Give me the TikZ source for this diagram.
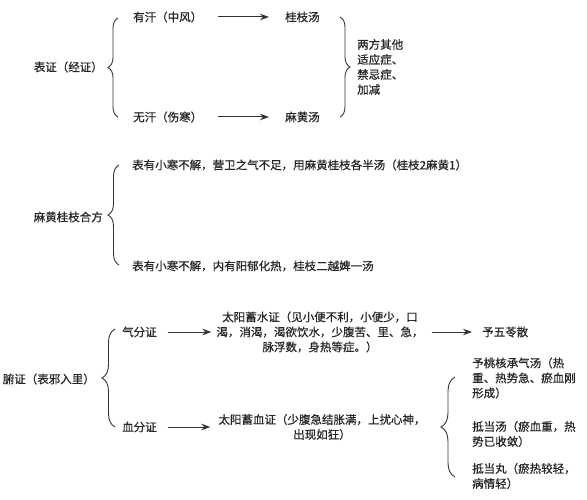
\documentclass[tikz,border=0pt]{standalone}
\usepackage{fontspec}
\setmainfont{Noto Sans CJK SC}[BoldFont=Noto Sans CJK SC, BoldFeatures={FakeBold=0.6}]
\usetikzlibrary{decorations.pathreplacing,arrows.meta}
\definecolor{ink}{HTML}{262626}
\definecolor{lineink}{HTML}{333333}
\begin{document}
\begin{tikzpicture}[x=1pt,y=-1pt,
  txt/.style={inner sep=0pt, font=\fontsize{11.5}{15}\selectfont\bfseries, text=ink, align=left},
  ctxt/.style={txt, align=center},
  arr/.style={draw=lineink, line width=1pt, -{Stealth[length=9pt,width=6.5pt]}},
  brc/.style={draw=lineink, line width=0.9pt, decorate, decoration={brace, amplitude=#1}},
]
\useasboundingbox[fill=white] (0,0) rectangle (587,500);

% ---------- section 1 ----------
\node[txt, anchor=east] (bz) at (103,67) {表证（经证）};
\node[txt, anchor=west] (yh) at (133,17) {有汗（中风）};
\node[txt, anchor=west] (wh) at (133,117) {无汗（伤寒）};
\node[txt, anchor=west] (gz) at (285,17) {桂枝汤};
\node[txt, anchor=west] (mh) at (285,117) {麻黄汤};
\node[txt, anchor=west] (qt) at (357,67) {两方其他\\适应症、\\禁忌症、\\加减};
\draw[arr, shorten <=16pt, shorten >=16pt] (yh.east) -- (gz.west);
\draw[arr, shorten <=16pt, shorten >=16pt] (wh.east) -- (mh.west);
\coordinate (b1t) at (118,18);
\coordinate (b1b) at (118,117);
\draw[brc=10] (b1b) -- (b1t);
\coordinate (b2t) at (340,17);
\coordinate (b2b) at (340,117);
\draw[brc=10] (b2t) -- (b2b);

% ---------- section 2 ----------
\node[txt, anchor=east] (hf) at (103,217) {麻黄桂枝合方};
\node[txt, anchor=west] (l1) at (132,165) {表有小寒不解，营卫之气不足，用麻黄桂枝各半汤（桂枝2麻黄1）};
\node[txt, anchor=west] (l2) at (132,266) {表有小寒不解，内有阳郁化热，桂枝二越婢一汤};
\coordinate (b3t) at (119,165);
\coordinate (b3b) at (119,265);
\draw[brc=11] (b3b) -- (b3t);

% ---------- section 3 ----------
\node[txt, anchor=east] (fz) at (95,379) {腑证（表邪入里）};
\node[txt, anchor=west] (qf) at (122,332) {气分证};
\node[txt, anchor=west] (xf) at (122,427) {血分证};
\node[ctxt] (xs) at (320,332) {太阳蓄水证（见小便不利，小便少，口\\渴，消渴，渴欲饮水，少腹苦、里、急，\\脉浮数，身热等症。）};
\node[txt, anchor=west] (wl) at (482,332) {予五苓散};
\node[ctxt] (xx) at (322,427) {太阳蓄血证（少腹急结胀满，上扰心神，\\出现如狂）};
\node[txt, anchor=west] (th) at (472,378) {予桃核承气汤（热\\重、热势急、瘀血刚\\形成）};
\node[txt, anchor=west] (dd) at (472,434) {抵当汤（瘀血重，热\\势已收敛）};
\node[txt, anchor=west] (dw) at (472,476) {抵当丸（瘀热较轻，\\病情轻）};
\draw[arr, shorten <=11pt, shorten >=5pt] (qf.east) -- (xs.west);
\draw[arr, shorten <=8pt, shorten >=10pt] (xs.east) -- (wl.west);
\draw[arr, shorten <=11pt, shorten >=8pt] (xf.east) -- (xx.west);
\coordinate (b4t) at (115,329);
\coordinate (b4b) at (115,427);
\draw[brc=13] (b4b) -- (b4t);
\coordinate (b5t) at (455,377);
\coordinate (b5b) at (455,477);
\draw[brc=14] (b5b) -- (b5t);
\end{tikzpicture}
\end{document}
